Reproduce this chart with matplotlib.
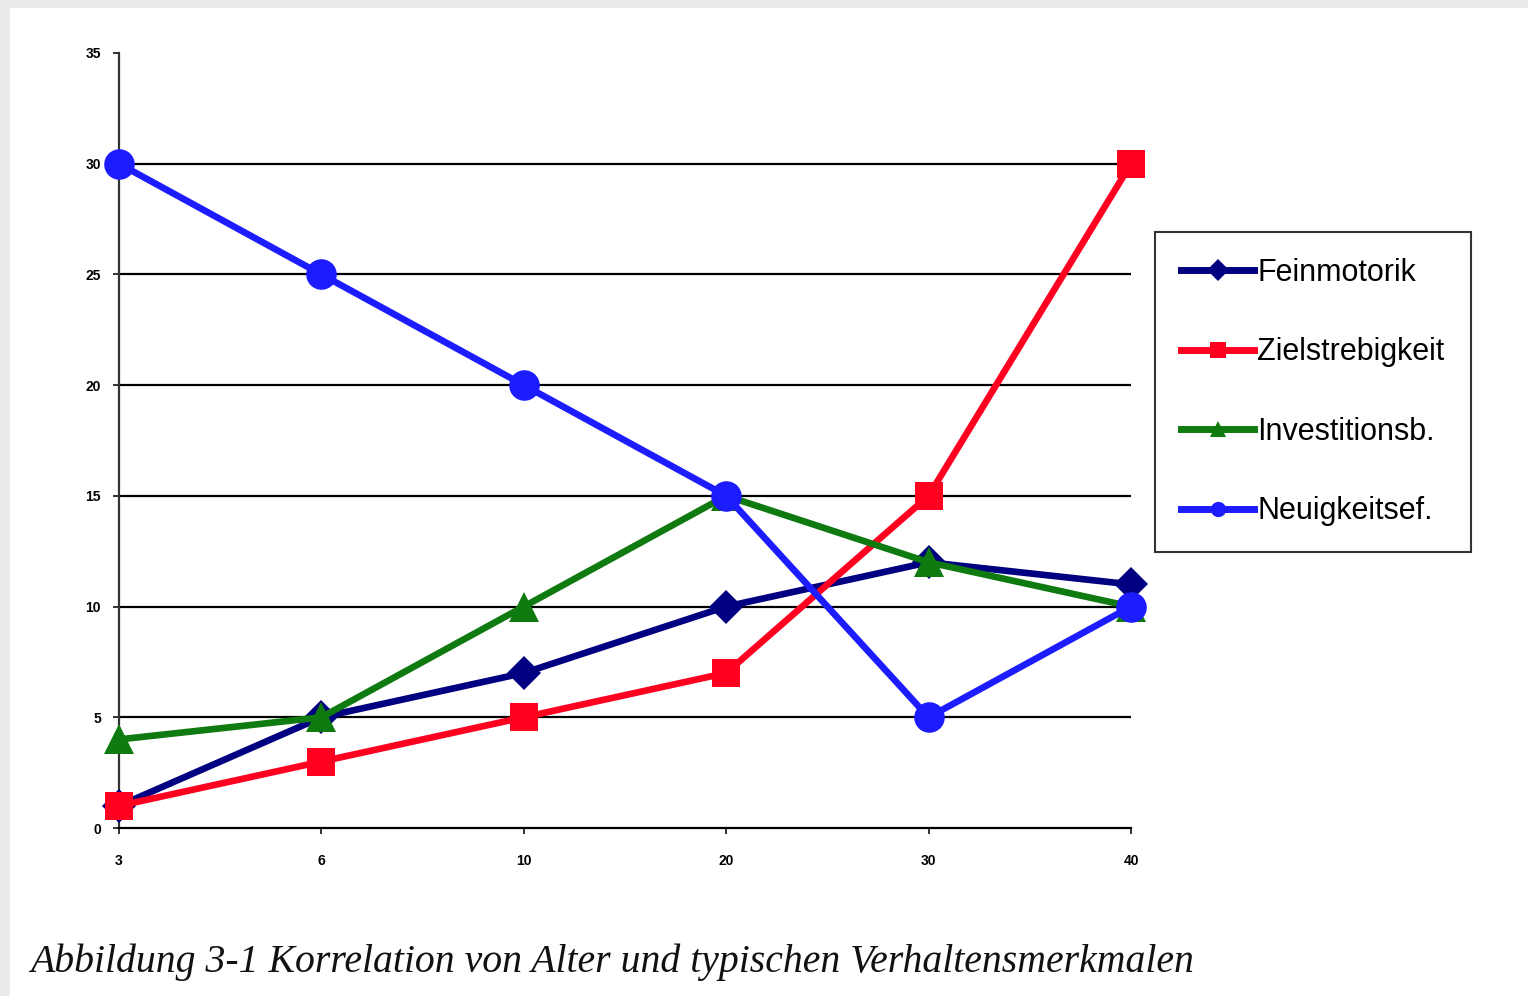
import numpy as np
import matplotlib
matplotlib.use("Agg")
import matplotlib.pyplot as plt
from matplotlib.patches import Rectangle
from matplotlib.lines import Line2D

# data
ages = ["3", "6", "10", "20", "30", "40"]
feinmotorik = [1, 5, 7, 10, 12, 11]
zielstrebigkeit = [1, 3, 5, 7, 15, 30]
investitionsb = [4, 5, 10, 15, 12, 10]
neuigkeitsef = [30, 25, 20, 15, 5, 10]

series = [
    ("Feinmotorik", feinmotorik, "#000080", "D", 17),
    ("Zielstrebigkeit", zielstrebigkeit, "#ff0020", "s", 20),
    ("Investitionsb.", investitionsb, "#0f7a0f", "^", 22),
    ("Neuigkeitsef.", neuigkeitsef, "#1c1cff", "o", 22),
]

fig = plt.figure(figsize=(15.28, 9.96), dpi=100)
fig.patch.set_facecolor("#ebebeb")
fig.patches.append(Rectangle((10 / 1528, 0), 1 - 10 / 1528, 1 - 8 / 996,
                             transform=fig.transFigure, facecolor="white",
                             edgecolor="none", zorder=-5))

ax = fig.add_axes([119 / 1528, 1 - 828 / 996, (1131 - 119) / 1528, (828 - 53) / 996])
ax.set_facecolor("none")
x = np.arange(len(ages))

# horizontal gridlines
for yv in range(5, 35, 5):
    ax.axhline(yv, color="black", lw=1.6, zorder=1)

for name, vals, col, mk, ms in series:
    ax.plot(x, vals, color=col, lw=4.8, marker=mk, markersize=ms,
            markeredgewidth=0, label=name, zorder=3, clip_on=False)

ax.set_xlim(0, len(ages) - 1)
ax.set_ylim(0, 35)
ax.set_yticks(range(0, 40, 5))
ax.set_xticks(x)
ax.set_xticklabels(ages)

for s in ["top", "right"]:
    ax.spines[s].set_visible(False)
ax.spines["left"].set_color("#333333")
ax.spines["left"].set_linewidth(1.6)
ax.spines["bottom"].set_color("black")
ax.spines["bottom"].set_linewidth(1.6)
ax.tick_params(axis="both", length=4, width=1.4, color="#333333", labelsize=10)
ax.tick_params(axis="x", pad=15)
ax.tick_params(axis="y", pad=9)
for lbl in ax.get_xticklabels() + ax.get_yticklabels():
    lbl.set_fontfamily("Liberation Sans")
    lbl.set_fontweight("bold")

# legend
handles = [Line2D([0], [0], color=col, lw=5, marker=mk, markersize=11,
                  markeredgewidth=0) for _, _, col, mk, _ in series]
leg = fig.legend(handles, [s[0] for s in series],
                 loc="upper left", bbox_to_anchor=(1155 / 1528, 1 - 232 / 996),
                 prop={"family": "Liberation Sans", "size": 22},
                 frameon=True, fancybox=False, edgecolor="black",
                 handlelength=2.4, handletextpad=0.1, labelspacing=1.62,
                 borderpad=0.85, borderaxespad=0)
leg.get_frame().set_linewidth(1.5)

fig.text(30 / 1528, 1 - 962 / 996,
         "Abbildung 3-1 Korrelation von Alter und typischen Verhaltensmerkmalen",
         fontfamily="Liberation Serif", fontstyle="italic", fontsize=28.6,
         va="center", ha="left", color="#111111")

fig.savefig("out.png", dpi=100, facecolor=fig.get_facecolor())
